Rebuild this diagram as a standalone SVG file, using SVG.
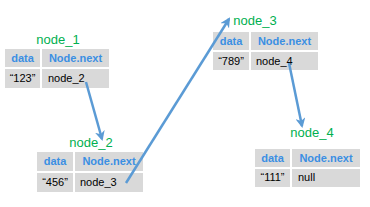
<svg xmlns="http://www.w3.org/2000/svg" width="370" height="207" viewBox="0 0 370 207">
<style>
.cell{fill:#d9d9d9}
.title{font-family:"Liberation Sans",Arial,sans-serif;font-size:13px;fill:#00b050;text-anchor:middle}
.hd{font-family:"Liberation Sans",Arial,sans-serif;font-size:11px;font-weight:bold;fill:#3b8fe3;text-anchor:middle}
.val{font-family:"Liberation Sans",Arial,sans-serif;font-size:11px;fill:#000;text-anchor:middle}
.ptr{font-family:"Liberation Sans",Arial,sans-serif;font-size:11px;fill:#000}
.link{stroke:#5b9bd5;stroke-width:2.5;fill:none;marker-end:url(#ah)}
</style>
<defs>
<marker id="ah" viewBox="0 0 10 10" refX="8" refY="5" markerWidth="4" markerHeight="4" orient="auto" markerUnits="strokeWidth">
<path d="M0,0 L10,5 L0,10 L3,5 z" fill="#5b9bd5"/>
</marker>
</defs>
<rect width="370" height="207" fill="#fff"/>
<g id="node_1">
<text class="title" x="58" y="44">node_1</text>
<rect class="cell" x="5" y="49" width="35" height="18"/>
<rect class="cell" x="42" y="49" width="67" height="18"/>
<rect class="cell" x="5" y="69" width="35" height="19"/>
<rect class="cell" x="42" y="69" width="67" height="19"/>
<text class="hd" x="22.5" y="62">data</text>
<text class="hd" x="75.5" y="62">Node.next</text>
<text class="val" x="22.5" y="82">“123”</text>
<text class="ptr" x="48" y="82">node_2</text>
</g>
<g id="node_2">
<text class="title" x="91" y="147">node_2</text>
<rect class="cell" x="37" y="152" width="36" height="19"/>
<rect class="cell" x="75" y="152" width="68" height="19"/>
<rect class="cell" x="37" y="173" width="36" height="19"/>
<rect class="cell" x="75" y="173" width="68" height="19"/>
<text class="hd" x="55" y="165">data</text>
<text class="hd" x="109" y="165">Node.next</text>
<text class="val" x="55" y="186">“456”</text>
<text class="ptr" x="80" y="186">node_3</text>
</g>
<g id="node_3">
<text class="title" x="255" y="25">node_3</text>
<rect class="cell" x="213" y="32" width="36" height="18"/>
<rect class="cell" x="251" y="32" width="67" height="18"/>
<rect class="cell" x="213" y="52" width="36" height="18"/>
<rect class="cell" x="251" y="52" width="67" height="18"/>
<text class="hd" x="231" y="45">data</text>
<text class="hd" x="284.5" y="45">Node.next</text>
<text class="val" x="231" y="65">“789”</text>
<text class="ptr" x="256" y="65">node_4</text>
</g>
<g id="node_4">
<text class="title" x="312" y="137">node_4</text>
<rect class="cell" x="255" y="149" width="35" height="18"/>
<rect class="cell" x="292" y="149" width="68" height="18"/>
<rect class="cell" x="255" y="169" width="35" height="18"/>
<rect class="cell" x="292" y="169" width="68" height="18"/>
<text class="hd" x="272.5" y="162">data</text>
<text class="hd" x="326" y="162">Node.next</text>
<text class="val" x="272.5" y="181">“111”</text>
<text class="ptr" x="298" y="181">null</text>
</g>
<g id="connectors">
<line class="link" x1="86" y1="82" x2="102" y2="139"/>
<line class="link" x1="126" y1="183" x2="229" y2="19"/>
<line class="link" x1="289" y1="63" x2="302" y2="126"/>
</g>
</svg>
